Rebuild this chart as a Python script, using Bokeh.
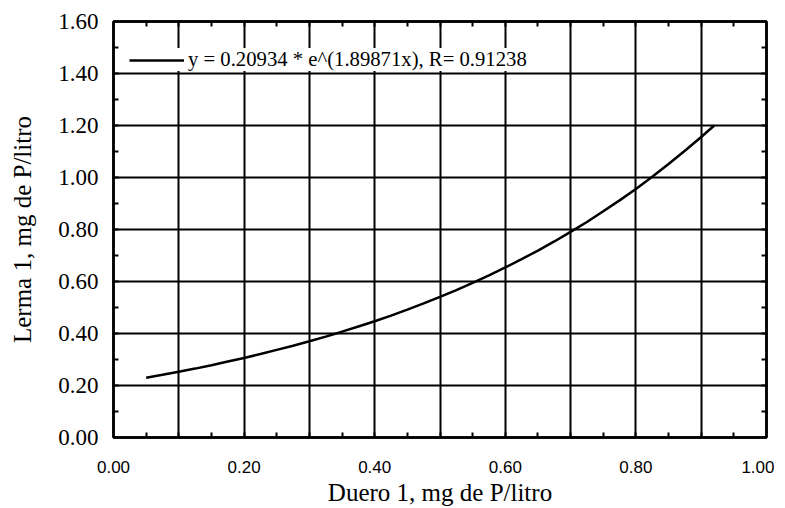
from bokeh.plotting import figure
from bokeh.models import LinearAxis, FixedTicker, PrintfTickFormatter, Legend, LegendItem, Range1d, ColumnDataSource
from bokeh.embed import file_html
from bokeh.resources import INLINE

# Fitted curve, values
x_fit = [0.050, 0.075, 0.100, 0.125, 0.150, 0.175, 0.200, 0.225, 0.250, 0.275,
         0.300, 0.325, 0.350, 0.375, 0.400, 0.425, 0.450, 0.475, 0.500, 0.525,
         0.550, 0.575, 0.600, 0.625, 0.650, 0.675, 0.700, 0.725, 0.750, 0.775,
         0.800, 0.825, 0.850, 0.875, 0.900, 0.920]
y_fit = [0.230, 0.241, 0.253, 0.265, 0.278, 0.292, 0.306, 0.321, 0.337, 0.353,
         0.370, 0.388, 0.407, 0.427, 0.447, 0.469, 0.492, 0.516, 0.541, 0.567,
         0.595, 0.624, 0.654, 0.686, 0.719, 0.754, 0.791, 0.829, 0.870, 0.912,
         0.956, 1.003, 1.052, 1.103, 1.156, 1.200]

x_major = [0.0, 0.2, 0.4, 0.6, 0.8, 1.0]
x_grid = [0.1, 0.2, 0.3, 0.4, 0.5, 0.6, 0.7, 0.8, 0.9]
x_minor = [0.05, 0.10, 0.15, 0.20, 0.25, 0.30, 0.35, 0.40, 0.45, 0.50,
           0.55, 0.60, 0.65, 0.70, 0.75, 0.80, 0.85, 0.90, 0.95]
y_major = [0.0, 0.2, 0.4, 0.6, 0.8, 1.0, 1.2, 1.4, 1.6]
y_grid = [0.2, 0.4, 0.6, 0.8, 1.0, 1.2, 1.4]
y_minor = [0.1, 0.2, 0.3, 0.4, 0.5, 0.6, 0.7, 0.8, 0.9, 1.0, 1.1, 1.2, 1.3, 1.4, 1.5]

legend_label = "y = 0.20934 * e^(1.89871x), R= 0.91238"
x_title = "Duero 1, mg de P/litro"
y_title = "Lerma 1, mg de P/litro"

SERIF = "Liberation Serif"
SANS = "Liberation Sans"

p = figure(frame_width=653, frame_height=416,
           x_range=Range1d(0, 1), y_range=Range1d(0, 1.6),
           output_backend="svg", toolbar_location=None,
           min_border_left=113, min_border_top=21, min_border_right=8, min_border_bottom=0,
           background_fill_color="white", border_fill_color="white")

p.outline_line_color = "black"
p.outline_line_width = 2.5

# grids
p.xgrid.ticker = FixedTicker(ticks=x_grid)
p.ygrid.ticker = FixedTicker(ticks=y_grid)
for g in (p.xgrid, p.ygrid):
    g.grid_line_color = "black"
    g.grid_line_width = 2
    g.grid_line_alpha = 1.0

# bottom axis
xa = p.xaxis[0]
xa.ticker = FixedTicker(ticks=x_major, minor_ticks=x_minor)
xa.formatter = PrintfTickFormatter(format="%.2f")
xa.axis_label = x_title
xa.axis_label_text_font = SERIF
xa.axis_label_text_font_size = "25px"
xa.axis_label_text_font_style = "normal"
xa.axis_label_text_color = "black"
xa.axis_label_standoff = 3
xa.major_label_text_font = SANS
xa.major_label_text_font_size = "17px"
xa.major_label_text_color = "black"
xa.major_label_standoff = 23
xa.major_tick_in = 0
xa.major_tick_out = 0
xa.minor_tick_in = 5
xa.minor_tick_out = 0
xa.minor_tick_line_width = 2
xa.axis_line_width = 2.5
xa.axis_line_color = "black"

# left axis
ya = p.yaxis[0]
ya.ticker = FixedTicker(ticks=y_major, minor_ticks=y_minor)
ya.formatter = PrintfTickFormatter(format="%.2f")
ya.axis_label = y_title
ya.axis_label_text_font = SERIF
ya.axis_label_text_font_size = "25px"
ya.axis_label_text_font_style = "normal"
ya.axis_label_text_color = "black"
ya.axis_label_standoff = 19
ya.major_label_text_font = SERIF
ya.major_label_text_font_size = "23px"
ya.major_label_text_color = "black"
ya.major_label_standoff = 15
ya.major_tick_in = 0
ya.major_tick_out = 0
ya.minor_tick_in = 5
ya.minor_tick_out = 0
ya.minor_tick_line_width = 2
ya.axis_line_width = 2.5
ya.axis_line_color = "black"

# top and right axes: minor ticks only
top = LinearAxis(ticker=FixedTicker(ticks=[], minor_ticks=x_minor),
                 major_label_text_font_size="0px", major_label_standoff=0,
                 major_tick_in=0, major_tick_out=0,
                 minor_tick_in=5, minor_tick_out=0, minor_tick_line_width=2,
                 axis_line_width=2.5, axis_line_color="black")
right = LinearAxis(ticker=FixedTicker(ticks=[], minor_ticks=y_minor),
                   major_label_text_font_size="0px", major_label_standoff=0,
                   major_tick_in=0, major_tick_out=0,
                   minor_tick_in=5, minor_tick_out=0, minor_tick_line_width=2,
                   axis_line_width=2.5, axis_line_color="black")
p.add_layout(top, "above")
p.add_layout(right, "right")

src = ColumnDataSource(dict(x=x_fit, y=y_fit))
r = p.line("x", "y", source=src, line_color="black", line_width=2.5)

legend = Legend(items=[LegendItem(label=legend_label, renderers=[r])],
                location=(16, 366), orientation="vertical",
                background_fill_color="white", background_fill_alpha=1.0,
                border_line_color=None, padding=2, spacing=0, margin=0,
                glyph_width=55, glyph_height=20, label_height=20,
                label_standoff=4,
                label_text_font=SERIF, label_text_font_size="20.7px",
                label_text_color="black")
p.add_layout(legend, "center")

open("out.html", "w").write(file_html(p, INLINE))
